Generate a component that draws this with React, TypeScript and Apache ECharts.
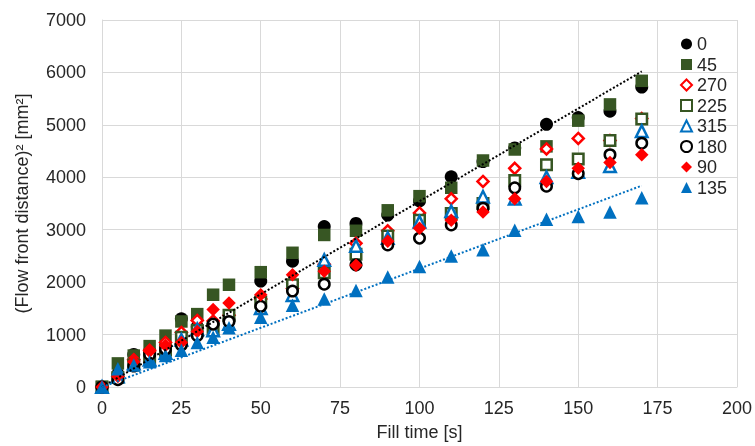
import React, { useEffect, useRef } from "react";
import * as echarts from "echarts";

const fillTimes = [0, 5, 10, 15, 20, 25, 30, 35, 40, 50, 60, 70, 80, 90, 100, 110, 120, 130, 140, 150, 160, 170];

const s0 = [0, 250, 620, 680, 780, 1300, 1150, 1200, 1280, 2020, 2400, 3060, 3120, 3280, 3550, 4010, 4300, 4560, 5010, 5140, 5260, 5720];
const s45 = [0, 450, 600, 780, 980, 1250, 1390, 1760, 1950, 2190, 2560, 2900, 2980, 3370, 3640, 3800, 4320, 4530, 4590, 5080, 5390, 5840];
const s270 = [0, 200, 520, 700, 850, 1040, 1270, 1260, 1370, 1680, 1880, 2340, 2740, 2980, 3320, 3590, 3920, 4170, 4540, 4740, 4700, 5120];
const s225 = [0, 180, 420, 560, 700, 950, 1080, 1100, 1370, 1620, 1950, 2180, 2530, 2880, 3180, 3310, 3500, 3940, 4240, 4350, 4700, 5110];
const s315 = [0, 200, 450, 520, 650, 900, 1100, 1080, 1200, 1500, 1750, 2420, 2690, 2840, 3150, 3350, 3630, 3590, 4000, 4100, 4210, 4880];
const s180 = [0, 140, 400, 620, 720, 800, 980, 1200, 1250, 1540, 1830, 1960, 2330, 2710, 2840, 3090, 3410, 3800, 3830, 4070, 4430, 4650];
const s90 = [0, 200, 480, 680, 790, 850, 1060, 1480, 1600, 1760, 2140, 2210, 2320, 2780, 3030, 3180, 3340, 3590, 3920, 4170, 4280, 4430];
const s135 = [0, 350, 420, 480, 600, 700, 850, 950, 1130, 1330, 1560, 1680, 1840, 2100, 2300, 2500, 2620, 2990, 3200, 3250, 3340, 3610];

const trend0 = [[0, 0], [170, 6020]];
const trend135 = [[0, 0], [170, 3840]];

const seriesNames = ["0", "45", "270", "225", "315", "180", "90", "135"];

const FONT = "'Liberation Sans', Arial, sans-serif";
const TXT = "#262626";
const GRID = "#d9d9d9";

const pair = (ys: number[]) => fillTimes.map((x, i) => [x, ys[i]]);

export default function App() {
  const ref = useRef<HTMLDivElement>(null);
  useEffect(() => {
    if (!ref.current) return;
    const chart = echarts.init(ref.current, undefined, { renderer: "svg" });
    const filled = (name: string, ys: number[], symbol: string, size: number, color: string) => ({
      name,
      type: "scatter",
      data: pair(ys),
      symbol,
      symbolSize: size,
      itemStyle: { color, opacity: 1 },
    });
    const open = (name: string, ys: number[], symbol: string, size: number, color: string) => ({
      name,
      type: "scatter",
      data: pair(ys),
      symbol,
      symbolSize: size,
      itemStyle: { color: "#ffffff", borderColor: color, borderWidth: 2.5, opacity: 1 },
    });
    const trend = (ys: number[][], color: string) => ({
      type: "line",
      data: ys,
      symbol: "none",
      silent: true,
      lineStyle: { color, width: 2, type: [2, 2] },
      z: 5,
    });
    chart.setOption({
      animation: false,
      textStyle: { fontFamily: FONT },
      grid: { left: 102, right: 18, top: 20, bottom: 56, containLabel: false },
      legend: {
        data: seriesNames,
        orient: "vertical",
        left: 675,
        top: 30,
        itemWidth: 11,
        itemHeight: 11,
        itemGap: 2.5,
        textStyle: { fontFamily: FONT, fontSize: 18, color: TXT },
      },
      xAxis: {
        type: "value",
        min: 0,
        max: 200,
        interval: 25,
        name: "Fill time [s]",
        nameLocation: "middle",
        nameGap: 36,
        nameTextStyle: { fontFamily: FONT, fontSize: 18, color: TXT },
        axisLine: { show: true, lineStyle: { color: GRID, width: 1 } },
        axisTick: { show: false },
        axisLabel: { fontFamily: FONT, fontSize: 18, color: TXT, margin: 12, formatter: (v: number) => String(v) },
        splitLine: { show: true, lineStyle: { color: GRID, width: 1 } },
      },
      yAxis: {
        type: "value",
        min: 0,
        max: 7000,
        interval: 1000,
        name: "(Flow front distance)² [mm²]",
        nameLocation: "middle",
        nameGap: 71,
        nameTextStyle: { fontFamily: FONT, fontSize: 18, color: TXT },
        axisLine: { show: true, lineStyle: { color: GRID, width: 1 } },
        axisTick: { show: false },
        axisLabel: { fontFamily: FONT, fontSize: 18, color: TXT, margin: 16, formatter: (v: number) => String(v) },
        splitLine: { show: true, lineStyle: { color: GRID, width: 1 } },
      },
      series: [
        filled("0", s0, "circle", 13, "#000000"),
        filled("45", s45, "rect", 12.5, "#375623"),
        open("270", s270, "diamond", 11, "#ff0000"),
        open("225", s225, "rect", 10.5, "#375623"),
        open("315", s315, "triangle", 11.5, "#0070c0"),
        open("180", s180, "circle", 10.5, "#000000"),
        filled("90", s90, "diamond", 13.5, "#ff0000"),
        filled("135", s135, "triangle", 13.5, "#0070c0"),
        trend(trend0, "#000000"),
        trend(trend135, "#0070c0"),
      ],
    });
    return () => chart.dispose();
  }, []);
  return <div ref={ref} style={{ position: "fixed", left: 0, top: 0, width: 755, height: 446 }} />;
}
